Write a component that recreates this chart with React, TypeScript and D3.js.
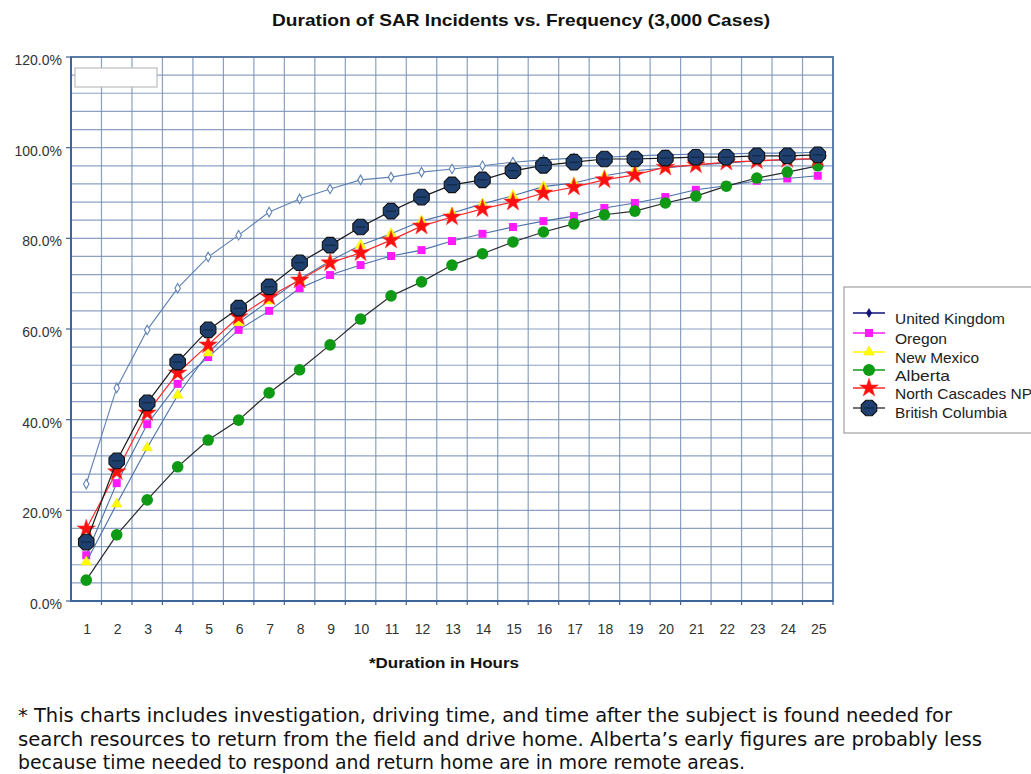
import React from "react";
import * as d3 from "d3";

const hours = ["1","2","3","4","5","6","7","8","9","10","11","12","13","14","15","16","17","18","19","20","21","22","23","24","25"];

const unitedKingdom = [25.8, 47.0, 59.8, 69.0, 75.9, 80.7, 85.8, 88.7, 90.9, 92.9, 93.5, 94.6, 95.3, 96.0, 96.8, 97.3, 97.7, 97.9, 98.2, 98.4, 98.6, 98.6, 98.8, 98.8, 99.0];
const oregon = [10.1, 26.0, 39.0, 47.9, 53.8, 59.8, 64.0, 69.0, 71.9, 74.1, 76.1, 77.4, 79.4, 81.0, 82.5, 83.8, 84.9, 86.7, 87.8, 89.1, 90.7, 91.6, 92.7, 93.2, 93.8];
const newMexico = [8.6, 21.4, 33.8, 45.4, 54.7, 61.4, 66.2, 71.0, 75.0, 78.5, 81.0, 83.8, 85.6, 87.6, 89.4, 91.4, 92.2, 93.8, 94.9, 95.5, 96.2, 96.6, 97.1, 97.3, 97.5];
const alberta = [4.6, 14.6, 22.3, 29.6, 35.5, 39.9, 45.9, 51.0, 56.5, 62.2, 67.3, 70.4, 74.1, 76.6, 79.2, 81.4, 83.2, 85.2, 86.0, 87.8, 89.3, 91.5, 93.3, 94.6, 96.0];
const northCascades = [15.9, 28.5, 41.5, 50.3, 56.5, 62.7, 67.1, 70.8, 74.6, 76.8, 79.6, 82.7, 84.7, 86.5, 88.0, 90.0, 91.3, 92.9, 94.0, 95.7, 96.2, 96.8, 97.1, 97.4, 97.6];
const britishColumbia = [13.0, 30.9, 43.7, 52.7, 59.8, 64.6, 69.3, 74.6, 78.5, 82.5, 86.0, 89.1, 91.8, 92.9, 94.9, 96.1, 96.8, 97.5, 97.5, 97.7, 97.9, 97.9, 98.2, 98.2, 98.4];

const yTicks = [0, 20, 40, 60, 80, 100, 120];
const seriesNames = ["United Kingdom", "Oregon", "New Mexico", "Alberta", "North Cascades NP", "British Columbia"];

const title = "Duration of SAR Incidents vs. Frequency (3,000 Cases)";
const xTitle = "*Duration in Hours";
const footnote = [
  "* This charts includes investigation, driving time, and time after the subject is found needed for",
  "search resources to return from the field and drive home.  Alberta\u2019s early figures are probably less",
  "because time needed to respond and return home are in more remote areas.",
];

const W = 1031, H = 774;
const L = 71, R = 833, T = 57, B = 601;
const FONT = "'Liberation Sans', Arial, Helvetica, sans-serif";

const octagon = (cx: number, cy: number, r: number) => {
  const pts: string[] = [];
  for (let i = 0; i < 8; i++) {
    const a = Math.PI / 8 + (i * Math.PI) / 4;
    pts.push(`${(cx + r * Math.cos(a)).toFixed(2)},${(cy + r * Math.sin(a)).toFixed(2)}`);
  }
  return `M${pts.join("L")}Z`;
};

type Marker = "diamond" | "square" | "triangle" | "circle" | "star" | "octagon";

function drawMarker(kind: Marker, x: number, y: number, key: string, legend = false) {
  switch (kind) {
    case "diamond":
      if (legend) {
        return <path key={key} d={d3.symbol(d3.symbolDiamond, 22)() || ""} transform={`translate(${x},${y})`} fill="#10107a" stroke="#10107a" strokeWidth={0.8} />;
      }
      return <path key={key} d={d3.symbol(d3.symbolDiamond, 26)() || ""} transform={`translate(${x},${y})`} fill="#ffffff" stroke="#5f82b3" strokeWidth={1.1} />;
    case "square":
      return <rect key={key} x={x - 4} y={y - 4} width={8} height={8} fill="#ff1aff" />;
    case "triangle":
      return <path key={key} d={d3.symbol(d3.symbolTriangle, 48)() || ""} transform={`translate(${x},${y})`} fill="#ffff00" stroke="#f0e000" strokeWidth={0.5} />;
    case "circle":
      return <circle key={key} cx={x} cy={y} r={legend ? 6 : 5.8} fill="#0f9a16" />;
    case "star":
      return <path key={key} d={d3.symbol(d3.symbolStar, legend ? 110 : 105)() || ""} transform={`translate(${x},${y})`} fill="#ff1010" stroke="#ff3030" strokeWidth={0.5} />;
    case "octagon":
      return (
        <g key={key}>
          <path d={octagon(x, y, 8.4)} fill="#1f406e" stroke="#111" strokeWidth={1.1} />
          <line x1={x - 5} x2={x + 5} y1={y} y2={y} stroke="#0a1a30" strokeWidth={0.8} />
        </g>
      );
  }
}

export default function App() {
  const x = d3.scaleBand<string>().domain(hours).range([L, R]);
  const y = d3.scaleLinear().domain([0, 120]).range([B, T]);
  const cx = (h: string) => (x(h) as number) + x.bandwidth() / 2;

  const series = [
    { name: seriesNames[0], values: unitedKingdom, line: "#5f82b3", width: 1.1, marker: "diamond" as Marker, legendLine: "#10107a" },
    { name: seriesNames[1], values: oregon, line: "#4a70a6", width: 1.1, marker: "square" as Marker, legendLine: "#ff1aff" },
    { name: seriesNames[2], values: newMexico, line: "#4a70a6", width: 1.1, marker: "triangle" as Marker, legendLine: "#ffff00" },
    { name: seriesNames[3], values: alberta, line: "#2a2a2a", width: 1.2, marker: "circle" as Marker, legendLine: "#0f9a16" },
    { name: seriesNames[4], values: northCascades, line: "#ff2a2a", width: 1.2, marker: "star" as Marker, legendLine: "#ff2a2a" },
    { name: seriesNames[5], values: britishColumbia, line: "#1a1a1a", width: 1.2, marker: "octagon" as Marker, legendLine: "#444" },
  ];

  const lineGen = d3.line<number>().x((_, i) => cx(hours[i])).y((v) => y(v));

  const hGrid = d3.range(4, 120, 4);
  const vGrid = hours.slice(1).map((h) => x(h) as number);

  const legendX = 844, legendY = 287;
  const legendRows = [313, 333, 352, 370, 388, 408];
  const legendTextY = [319, 339, 358, 376, 394, 413];
  const legendWidths = [110, 52, 84, 55, 137, 112];

  return (
    <svg width={W} height={H} style={{ position: "absolute", left: 0, top: 0, background: "#fff" }} fontFamily={FONT}>
      <rect x={0} y={0} width={W} height={H} fill="#fff" />
      <text x={272} y={26} fontSize={17} fontWeight="bold" fill="#111" textLength={498} lengthAdjust="spacingAndGlyphs">{title}</text>

      {/* grid */}
      {hGrid.map((v) => (
        <line key={`h${v}`} x1={L} x2={R} y1={y(v)} y2={y(v)} stroke="#7891b8" strokeWidth={1.2} opacity={0.85} />
      ))}
      {vGrid.map((gx, i) => (
        <line key={`v${i}`} x1={gx} x2={gx} y1={T} y2={B} stroke="#7891b8" strokeWidth={1.2} opacity={0.85} />
      ))}
      <rect x={L} y={T} width={R - L} height={B - T} fill="none" stroke="#4a6fa3" strokeWidth={1.8} />
      <line x1={L} x2={L} y1={T} y2={B} stroke="#3f6499" strokeWidth={2} />
      <line x1={L} x2={R} y1={B} y2={B} stroke="#3f6499" strokeWidth={2} />

      {/* ticks */}
      {yTicks.map((v) => (
        <g key={`yt${v}`}>
          <line x1={L - 5} x2={L} y1={y(v)} y2={y(v)} stroke="#3f6499" strokeWidth={1.2} />
          <text x={62} y={y(v) + 8} textAnchor="end" fontSize={14} fill="#333">{`${v.toFixed(1)}%`}</text>
        </g>
      ))}
      {[...vGrid, R].map((gx, i) => (
        <line key={`xt${i}`} x1={gx} x2={gx} y1={B} y2={B + 4} stroke="#3f6499" strokeWidth={1.2} />
      ))}
      {hours.map((h) => (
        <text key={`xl${h}`} x={cx(h) + 1} y={634} textAnchor="middle" fontSize={14} fill="#333">{h}</text>
      ))}
      <text x={369} y={668} fontSize={15} fontWeight="bold" fill="#111" textLength={150} lengthAdjust="spacingAndGlyphs">{xTitle}</text>

      {/* empty box top-left */}
      <rect x={75} y={68} width={82} height={19} fill="#fff" stroke="#bdbdbd" strokeWidth={1.2} />

      {/* series */}
      {series.map((s) => (
        <g key={s.name}>
          <path d={lineGen(s.values) || ""} fill="none" stroke={s.line} strokeWidth={s.width} />
          {s.values.map((v, i) => drawMarker(s.marker, cx(hours[i]), y(v), `${s.name}-${i}`))}
        </g>
      ))}

      {/* legend */}
      <rect x={legendX} y={legendY} width={W - legendX + 20} height={146} fill="#fff" stroke="#a0a0a0" strokeWidth={1.2} />
      {series.map((s, i) => (
        <g key={`lg${i}`}>
          <line x1={853} x2={885} y1={legendRows[i]} y2={legendRows[i]} stroke={s.legendLine} strokeWidth={1.5} />
          {drawMarker(s.marker, 869, legendRows[i], `lgm${i}`, true)}
          <text x={895} y={legendTextY[i] + 5} fontSize={15} fill="#222" textLength={legendWidths[i]} lengthAdjust="spacingAndGlyphs">{s.name}</text>
        </g>
      ))}

      {/* footnote */}
      {footnote.map((t, i) => (
        <text key={`fn${i}`} x={18} y={722 + i * 23.5} fontSize={19}
          fontFamily="'Liberation Sans Narrow', 'DejaVu Sans Condensed', 'Liberation Sans', sans-serif"
          textLength={[934, 964, 727][i]} lengthAdjust="spacingAndGlyphs" fill="#111">{t}</text>
      ))}
    </svg>
  );
}
